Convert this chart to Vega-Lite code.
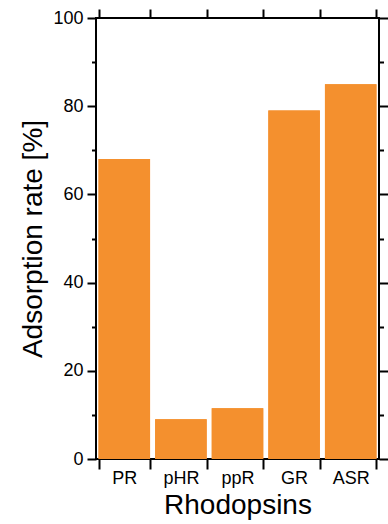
{
  "$schema": "https://vega.github.io/schema/vega-lite/v6.json",
  "width": 283,
  "height": 441,
  "autosize": "none",
  "padding": {"left": 96, "top": 18, "right": 9, "bottom": 65},
  "background": "white",
  "config": {
    "font": "Liberation Sans",
    "view": {"stroke": "black", "strokeWidth": 2},
    "axis": {
      "domain": false,
      "grid": false,
      "tickColor": "black",
      "tickWidth": 2,
      "labelColor": "black",
      "labelFont": "Liberation Sans",
      "labelFontSize": 18,
      "titleFont": "Liberation Sans",
      "titleFontSize": 28,
      "titleFontWeight": "normal",
      "titleColor": "black"
    }
  },
  "data": {
    "values": [
      {"rhodopsin": "PR", "rate": 68},
      {"rhodopsin": "pHR", "rate": 9},
      {"rhodopsin": "ppR", "rate": 11.5},
      {"rhodopsin": "GR", "rate": 79},
      {"rhodopsin": "ASR", "rate": 85}
    ]
  },
  "layer": [
    {
      "mark": {"type": "bar", "color": "#F4902E"},
      "encoding": {
        "x": {
          "field": "rhodopsin", "type": "nominal", "sort": null,
          "scale": {"paddingInner": 0.09, "paddingOuter": 0.045},
          "axis": {"orient": "bottom", "title": "Rhodopsins", "labelAngle": 0, "tickBand": "extent", "tickSize": 10, "labelPadding": 0, "titlePadding": 4}
        },
        "y": {
          "field": "rate", "type": "quantitative",
          "scale": {"domain": [0, 100], "nice": false},
          "axis": {
            "orient": "left",
            "title": "Adsorption rate [%]",
            "values": [0, 10, 20, 30, 40, 50, 60, 70, 80, 90, 100],
            "labelExpr": "datum.value % 20 === 0 ? datum.label : ''",
            "tickSize": {"condition": {"test": "datum.value % 20 === 0", "value": 9}, "value": 4.5},
            "labelPadding": 4,
            "titlePadding": 5
          }
        }
      }
    },
    {
      "mark": {"type": "bar", "color": "#F4902E"},
      "encoding": {
        "x": {
          "field": "rhodopsin", "type": "nominal", "sort": null,
          "axis": {"orient": "top", "title": null, "labels": false, "tickBand": "extent", "tickSize": 9}
        },
        "y": {
          "field": "rate", "type": "quantitative",
          "axis": {
            "orient": "right",
            "title": null,
            "labels": false,
            "values": [0, 10, 20, 30, 40, 50, 60, 70, 80, 90, 100],
            "tickSize": {"condition": {"test": "datum.value % 20 === 0", "value": 9}, "value": 4.5}
          }
        }
      }
    }
  ],
  "resolve": {"axis": {"x": "independent", "y": "independent"}}
}
